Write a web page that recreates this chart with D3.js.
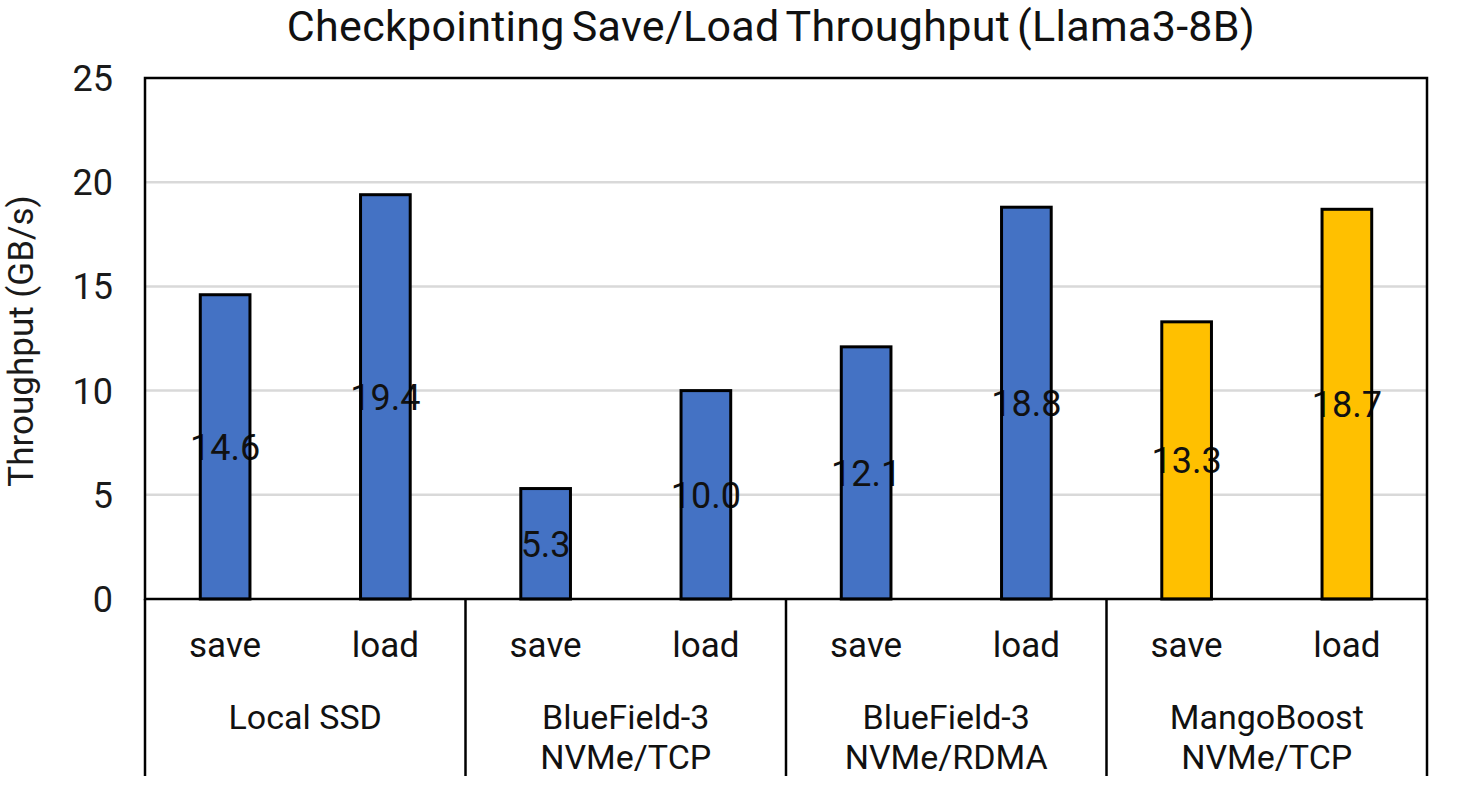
<!DOCTYPE html>
<html><head><meta charset="utf-8">
<script src="https://cdn.jsdelivr.net/npm/d3@7"></script>
<style>body{margin:0;background:#fff}svg{display:block;font-family:Roboto,sans-serif}</style>
</head><body>
<script>
const groups = [["Local SSD"], ["BlueField-3", "NVMe/TCP"], ["BlueField-3", "NVMe/RDMA"], ["MangoBoost", "NVMe/TCP"]];
const ops = ["save", "load"];
const saveValues = [14.6, 5.3, 12.1, 13.3];
const loadValues = [19.4, 10.0, 18.8, 18.7];
const groupColors = ["#4472C4", "#4472C4", "#4472C4", "#FFC000"];
const yTicks = [0, 5, 10, 15, 20, 25];
const title = "Checkpointing Save/Load Throughput (Llama3-8B)";
const yTitle = "Throughput (GB/s)";

const W = 1462, H = 806;
const L = 145, R = 1427, T = 78, B = 599;
const svg = d3.select("body").append("svg").attr("width", W).attr("height", H);

const data = [];
groups.forEach((g, i) => {
  data.push({g: i, op: "save", v: saveValues[i], color: groupColors[i]});
  data.push({g: i, op: "load", v: loadValues[i], color: groupColors[i]});
});

const x0 = d3.scaleBand().domain(d3.range(groups.length)).range([L, R]).padding(0);
const x1 = d3.scaleBand().domain(ops).range([0, x0.bandwidth()]).paddingInner(0.69).paddingOuter(0.345);
const y = d3.scaleLinear().domain([0, 25]).range([B, T]);

// gridlines
svg.append("g").selectAll("line").data(yTicks.filter(t => t > 0 && t < 25)).join("line")
  .attr("x1", L).attr("x2", R).attr("y1", d => y(d)).attr("y2", d => y(d))
  .attr("stroke", "#d9d9d9").attr("stroke-width", 2.5);

// y tick labels
svg.append("g").selectAll("text").data(yTicks).join("text")
  .attr("x", 113).attr("y", d => y(d)).attr("dy", "0.36em")
  .attr("text-anchor", "end").attr("font-size", 36).attr("fill", "#1a1a1a")
  .text(d => d);

// bars fill
const bx = d => x0(d.g) + x1(d.op);
svg.append("g").selectAll("rect").data(data).join("rect")
  .attr("x", bx).attr("y", d => y(d.v)).attr("width", x1.bandwidth()).attr("height", d => y(0) - y(d.v))
  .attr("fill", d => d.color);

// labels
svg.append("g").selectAll("text").data(data).join("text")
  .attr("x", d => bx(d) + x1.bandwidth() / 2).attr("y", d => (y(d.v) + y(0)) / 2).attr("dy", "0.36em")
  .attr("text-anchor", "middle").attr("font-size", 36).attr("fill", "#111")
  .text(d => d.v.toFixed(1));

// bar outlines
svg.append("g").selectAll("rect").data(data).join("rect")
  .attr("x", bx).attr("y", d => y(d.v)).attr("width", x1.bandwidth()).attr("height", d => y(0) - y(d.v))
  .attr("fill", "none").attr("stroke", "#000").attr("stroke-width", 3);

// plot frame
svg.append("rect").attr("x", L).attr("y", T).attr("width", R - L).attr("height", B - T)
  .attr("fill", "none").attr("stroke", "#000").attr("stroke-width", 2.5);

// category separators
const seps = d3.range(groups.length + 1).map(i => i < groups.length ? x0(i) : R);
svg.append("g").selectAll("line").data(seps).join("line")
  .attr("x1", d => d).attr("x2", d => d).attr("y1", B).attr("y2", 776)
  .attr("stroke", "#000").attr("stroke-width", 2.5);

// sub labels
svg.append("g").selectAll("text").data(data).join("text")
  .attr("x", d => bx(d) + x1.bandwidth() / 2).attr("y", 657)
  .attr("text-anchor", "middle").attr("font-size", 35).attr("fill", "#111")
  .text(d => d.op);

// group labels
const gl = svg.append("g").selectAll("text").data(groups).join("text")
  .attr("x", (d, i) => x0(i) + x0.bandwidth() / 2).attr("y", 729)
  .attr("text-anchor", "middle").attr("font-size", 34).attr("fill", "#111");
gl.selectAll("tspan").data(d => d).join("tspan")
  .attr("x", function() { return d3.select(this.parentNode).attr("x"); })
  .attr("dy", (d, i) => i === 0 ? 0 : 40)
  .text(d => d);

// title
svg.append("text").attr("x", 771).attr("y", 41)
  .attr("text-anchor", "middle").attr("font-size", 43).attr("fill", "#111")
  .attr("word-spacing", -4).attr("letter-spacing", 0.3)
  .text(title);

// y title
svg.append("text").attr("transform", "translate(33,341) rotate(-90)")
  .attr("text-anchor", "middle").attr("font-size", 35).attr("fill", "#1a1a1a")
  .text(yTitle);
</script>
</body></html>
